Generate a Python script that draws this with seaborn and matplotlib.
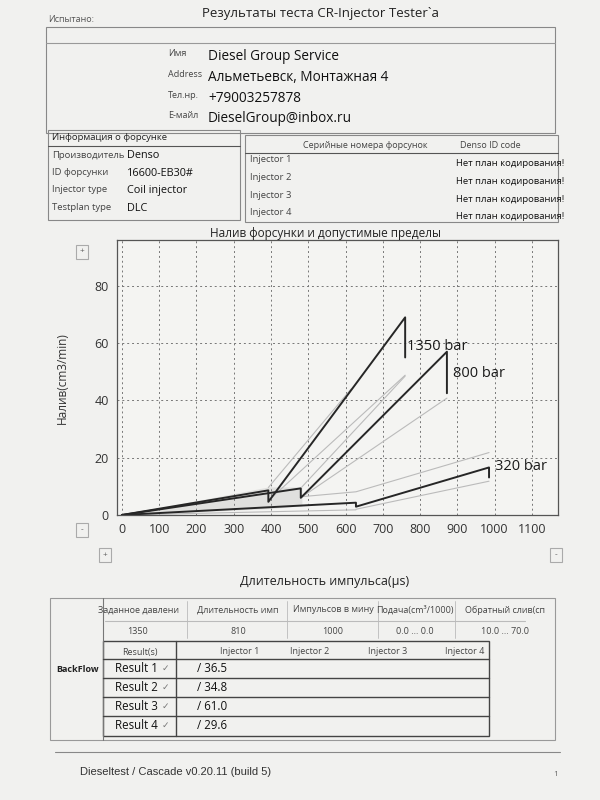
import pandas as pd
import matplotlib.pyplot as plt
import seaborn as sns
from matplotlib.lines import Line2D
from matplotlib.patches import Rectangle

sns.set_theme(style="white")
plt.rcParams['font.family'] = ['Open Sans', 'DejaVu Sans']

# ---- data ----
pressures = ["1350 bar", "800 bar", "320 bar"]
dark_x = {"1350 bar": [0, 393, 393, 760, 760],
          "800 bar": [0, 480, 480, 872, 872],
          "320 bar": [0, 628, 628, 985, 985]}
dark_y = {"1350 bar": [0, 8.6, 4.6, 69.0, 55.0],
          "800 bar": [0, 9.3, 6.0, 57.0, 42.5],
          "320 bar": [0, 4.3, 2.9, 16.6, 13.1]}
limit_x = [[393, 615], [393, 760], [483, 760], [483, 872], [483, 628, 985], [628, 985], [0, 628]]
limit_y = [[9.6, 44.0], [5.0, 48.8], [9.8, 48.5], [6.3, 40.8], [6.4, 8.1, 21.8], [2.0, 11.8], [0, 1.8]]
band_x = [0, 393, 483]
band_hi = [0, 9.8, 9.8]
band_lo = [0, 2.2, 3.2]
label_x = [765, 889, 1002]
label_y = [58.7, 49.4, 16.9]

client_keys = ["Имя", "Address", "Тел.нр.", "E-майл"]
client_vals = ["Diesel Group Service", "Альметьевск, Монтажная 4", "+79003257878", "DieselGroup@inbox.ru"]
inj_keys = ["Производитель", "ID форсунки", "Injector type", "Testplan type"]
inj_vals = ["Denso", "16600-EB30#", "Coil injector", "DLC"]
injectors = ["Injector 1", "Injector 2", "Injector 3", "Injector 4"]
id_codes = ["Нет план кодирования!"] * 4
param_heads = ["Заданное давлени", "Длительность имп", "Импульсов в мину", "Подача(cm³/1000)", "Обратный слив(сп"]
param_vals = ["1350", "810", "1000", "0.0 ... 0.0", "10.0 ... 70.0"]
results = ["Result 1", "Result 2", "Result 3", "Result 4"]
backflow = ["/ 36.5", "/ 34.8", "/ 61.0", "/ 29.6"]

W, H = 600, 800
fig = plt.figure(figsize=(6, 8), dpi=100, facecolor="#f1f1ef")


def fx(x):
    return x / W


def fy(y):
    return 1 - y / H


def txt(x, y, s, size=7, **kw):
    kw.setdefault("va", "center")
    kw.setdefault("color", "#222222")
    fig.text(fx(x), fy(y), s, fontsize=size, **kw)


def hline(x0, x1, y, c="#555555", lw=0.8):
    fig.add_artist(Line2D([fx(x0), fx(x1)], [fy(y), fy(y)], color=c, lw=lw))


def vline(x, y0, y1, c="#555555", lw=0.8):
    fig.add_artist(Line2D([fx(x), fx(x)], [fy(y0), fy(y1)], color=c, lw=lw))


def box(x0, y0, x1, y1, c="#888888", lw=0.8):
    fig.add_artist(Rectangle((fx(x0), fy(y1)), fx(x1) - fx(x0), fy(y0) - fy(y1),
                             fill=False, edgecolor=c, lw=lw))


# ---- header ----
txt(320, 14, "Результаты теста CR-Injector Tester`a", 9.5, ha="center")
txt(48, 19, "Испытано:", 6.5, color="#555555")
box(46, 27, 555, 133)
hline(46, 555, 43, c="#999999")
for i, (k, v) in enumerate(zip(client_keys, client_vals)):
    y = 57 + i * 20.5
    txt(168, y - 3, k, 6.5, color="#444444")
    txt(208, y, v, 9.8, color="#111111")

box(48, 130, 240, 220)
txt(52, 137, "Информация о форсунке", 6.8)
hline(48, 240, 146, c="#555555")
for i, (k, v) in enumerate(zip(inj_keys, inj_vals)):
    y = 155 + i * 17.5
    txt(52, y, k, 6.8, color="#444444")
    txt(127, y + 1, v, 7.8, color="#111111")

box(245, 135, 558, 222)
txt(365, 146, "Серийные номера форсунок", 6.5, ha="center", color="#444444")
txt(460, 146, "Denso ID code", 6.5, color="#444444")
hline(245, 558, 153, c="#555555")
for i, (k, v) in enumerate(zip(injectors, id_codes)):
    y = 160 + i * 17.5
    txt(250, y, k, 6.8, color="#444444")
    txt(564, y + 4, v, 6.8, ha="right", color="#111111")

# ---- chart ----
txt(325, 233, "Налив форсунки и допустимые пределы", 8.5, ha="center")
ax = fig.add_axes([fx(117), fy(515), fx(558) - fx(117), fy(240) - fy(515)])
ax.set_facecolor("#f4f4f2")
ax.fill_between(band_x, band_lo, band_hi, color="#999999", alpha=0.22, lw=0)
for lx, ly in zip(limit_x, limit_y):
    sns.lineplot(x=lx, y=ly, ax=ax, color="#bbbbbb", lw=0.8, sort=False, estimator=None)
for p, tx, ty in zip(pressures, label_x, label_y):
    sns.lineplot(x=dark_x[p], y=dark_y[p], ax=ax, color="#262626", lw=1.4,
                 sort=False, estimator=None)
    ax.text(tx, ty, p, fontsize=10.5, color="#1a1a1a", va="center")
ax.set_xlim(-13, 1170)
ax.set_ylim(0, 96)
ax.set_xticks(range(0, 1101, 100))
ax.set_yticks(range(0, 81, 20))
ax.grid(True, color="#777777", ls=(0, (2, 3)), lw=0.7)
ax.tick_params(labelsize=9, colors="#333333", length=0, pad=6)
for s in ax.spines.values():
    s.set_color("#555555")
    s.set_linewidth(0.9)
ax.set_xlabel("")
ax.set_ylabel("")
fig.text(fx(62), fy(378), "Налив(cm3/min)", rotation=90, fontsize=8.5,
         color="#333333", ha="center", va="center")
txt(325, 582, "Длительность импульса(μs)", 9, ha="center")
for bx, by, s in [(82, 252, "+"), (82, 530, "-"), (105, 555, "+"), (556, 555, "-")]:
    box(bx - 6, by - 7, bx + 6, by + 7, c="#aaaaaa")
    txt(bx, by, s, 6, ha="center", color="#555555")

# ---- bottom table ----
box(50, 598, 555, 740, c="#999999")
vline(103, 598, 740, c="#777777")
txt(78, 670, "BackFlow", 6.5, ha="center", fontweight="bold")
col_x = [138, 238, 333, 415, 505]
for cx, h, v in zip(col_x, param_heads, param_vals):
    txt(cx, 610, h, 6.5, ha="center", color="#444444")
    txt(cx, 632, v, 6.5, ha="center", color="#444444")
for dx in [187, 287, 378, 455]:
    vline(dx, 601, 638, c="#bbbbbb", lw=0.6)
hline(105, 525, 621, c="#bbbbbb")
box(103, 641, 489, 736, c="#444444", lw=1.0)
vline(176, 641, 736, c="#444444", lw=1.0)
txt(140, 652, "Result(s)", 6.5, ha="center", color="#444444")
for cx, s in zip([240, 310, 388, 465], injectors):
    txt(cx, 652, s, 6.5, ha="center", color="#444444")
for i, (r, v) in enumerate(zip(results, backflow)):
    y0 = 659 + i * 19
    hline(103, 489, y0, c="#444444", lw=1.0)
    txt(158, y0 + 9.5, r, 8.3, ha="right", color="#111111")
    txt(169, y0 + 9.5, "✓", 6.5, ha="right", color="#777777")
    txt(197, y0 + 9.5, v, 8.3, color="#111111")

# ---- footer ----
hline(55, 560, 752, c="#888888")
fig.text(fx(80), fy(772), "Dieseltest / Cascade v0.20.11 (build 5)", fontsize=8,
         family=["Liberation Sans", "DejaVu Sans"], color="#333333", va="center")
txt(553, 775, "1", 6, color="#666666")

fig.savefig("out.png", dpi=100, facecolor=fig.get_facecolor())
